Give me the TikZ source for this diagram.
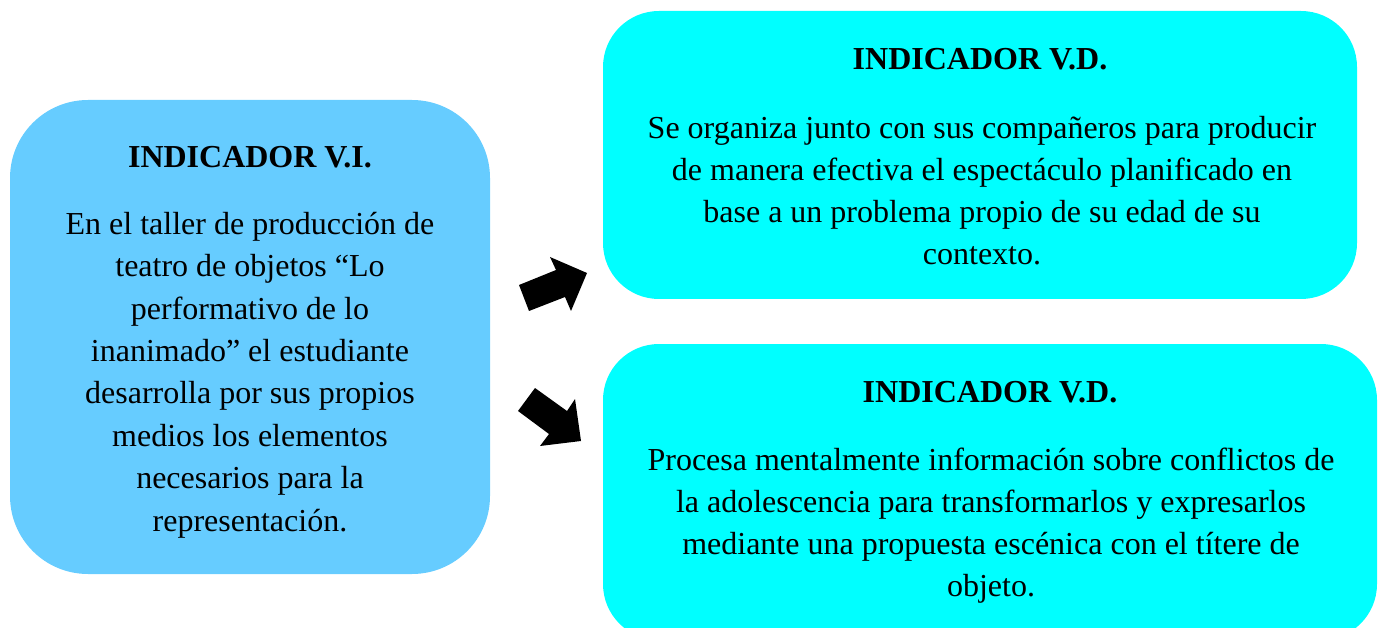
\documentclass[tikz,border=0pt]{standalone}
\usepackage{fontspec}
\setmainfont{Liberation Serif}
\definecolor{boxblue}{HTML}{66CCFF}
\definecolor{boxcyan}{HTML}{00FFFF}
\tikzset{
  body/.style={align=center, inner sep=0pt, anchor=base, font=\fontsize{32}{42}\selectfont},
  title/.style={inner sep=0pt, anchor=base, font=\fontsize{32}{38}\selectfont\bfseries},
  blockarrow/.style={fill=black, draw=none}
}
\begin{document}
\begin{tikzpicture}[x=1pt,y=-1pt]
\useasboundingbox (0,0) rectangle (1384,628);
\clip (0,0) rectangle (1384,628);
% boxes
\fill[boxblue, rounded corners=78pt] (10,100) rectangle (490,574);
\fill[boxcyan, rounded corners=56pt] (603,11) rectangle (1357,299);
\fill[boxcyan, rounded corners=56pt] (603,344) rectangle (1377,640);
% left (anchored at the baseline of the last line)
\node[title] (t1) at (250,168) {INDICADOR V.I.};
\node[body, font=\fontsize{32}{42.4}\selectfont] (b1) at (250,531) {En el taller de producción de\\teatro de objetos “Lo\\performativo de lo\\inanimado” el estudiante\\desarrolla por sus propios\\medios los elementos\\necesarios para la\\representación.};
% top right
\node[title] (t2) at (980,70) {INDICADOR V.D.};
\node[body] (b2) at (982,265) {Se organiza junto con sus compañeros para producir\\de manera efectiva el espectáculo planificado en\\base a un problema propio de su edad de su\\contexto.};
% bottom right
\node[title] (t3) at (990,402) {INDICADOR V.D.};
\node[body] (b3) at (991,596) {Procesa mentalmente información sobre conflictos de\\la adolescencia para transformarlos y expresarlos\\mediante una propuesta escénica con el títere de\\objeto.};
% block arrows
\fill[blockarrow] (519,285) -- (556,270) -- (550,257) -- (587,273) -- (571,311) -- (565,297) -- (529,311) -- cycle;
\fill[blockarrow] (535,388) -- (567,411) -- (575,399) -- (581,441) -- (540,446) -- (549,434) -- (518,411) -- cycle;
\end{tikzpicture}
\end{document}
